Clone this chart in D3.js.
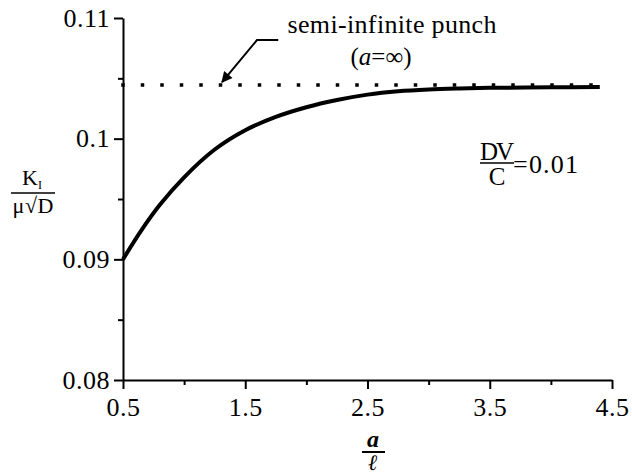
<!DOCTYPE html>
<html lang="en">
<head>
  <meta charset="UTF-8">
  <script src="https://d3js.org/d3.v7.min.js"></script>
  <title>K1 vs a/l</title>
  <style>
    body {
      margin: 0;
      background: #fff;
    }
  </style>
</head>
<body>
<script>
  // curve values
  const ratioA = [0.5, 0.65, 0.8, 1.0, 1.25, 1.5, 1.75, 2.0, 2.25, 2.5, 2.75, 3.0, 3.25, 3.5, 4.0, 4.4];
  const kValue = [0.0900, 0.0924, 0.0945, 0.0968, 0.0991, 0.1007, 0.1018, 0.1026, 0.1032, 0.10365, 0.10393, 0.10408, 0.10416, 0.10421, 0.10426, 0.10428];

  // semi-infinite punch limit
  const limitX = [0.5, 4.4];
  const limitK = 0.10445;

  const xTicks = [0.5, 1.5, 2.5, 3.5, 4.5];
  const xMinor = [1.0, 2.0, 3.0, 4.0];
  const yTicks = [0.08, 0.09, 0.1, 0.11];
  const yTickLabels = ["0.08", "0.09", "0.1", "0.11"];
  const yMinor = [0.085, 0.095, 0.105];

  const width = 632, height = 474;
  const serif = "Liberation Serif";

  const svg = d3.select("body").append("svg")
    .attr("width", width)
    .attr("height", height);

  const x = d3.scaleLinear().domain([0.5, 4.5]).range([123, 612]);
  const y = d3.scaleLinear().domain([0.08, 0.11]).range([380, 18]);

  // arrowhead for the annotation
  svg.append("defs").append("marker")
    .attr("id", "arrow")
    .attr("viewBox", "0 -5 10 10")
    .attr("refX", 9)
    .attr("refY", 0)
    .attr("orient", "auto")
    .attr("markerUnits", "userSpaceOnUse")
    .attr("markerWidth", 13)
    .attr("markerHeight", 11)
    .append("path")
    .attr("d", "M0,-5L10,0L0,5Z")
    .attr("fill", "#000");

  // axes
  const xAxis = svg.append("g")
    .attr("transform", `translate(0,${y(0.08)})`)
    .call(d3.axisBottom(x).tickValues(xTicks).tickSize(9).tickSizeOuter(0).tickPadding(9)
      .tickFormat(d3.format(".1f")));
  const xAxisMinor = svg.append("g")
    .attr("transform", `translate(0,${y(0.08)})`)
    .call(d3.axisBottom(x).tickValues(xMinor).tickSize(5).tickSizeOuter(0).tickFormat(""));

  const yAxis = svg.append("g")
    .attr("transform", `translate(${x(0.5)},0)`)
    .call(d3.axisLeft(y).tickValues(yTicks).tickSize(9).tickSizeOuter(0).tickPadding(4)
      .tickFormat((d, i) => yTickLabels[i]));
  const yAxisMinor = svg.append("g")
    .attr("transform", `translate(${x(0.5)},0)`)
    .call(d3.axisLeft(y).tickValues(yMinor).tickSize(5).tickSizeOuter(0).tickFormat(""));

  svg.selectAll("g").attr("font-family", serif);
  svg.selectAll(".domain").attr("stroke", "#000").attr("stroke-width", 2);
  svg.selectAll(".tick line").attr("stroke", "#000").attr("stroke-width", 2);
  svg.selectAll(".tick text").attr("font-size", 26).attr("font-family", serif)
    .attr("letter-spacing", 0.5);
  yAxisMinor.select(".domain").remove();
  xAxisMinor.select(".domain").remove();

  // dotted limit line
  svg.append("path")
    .datum(limitX)
    .attr("fill", "none")
    .attr("stroke", "#000")
    .attr("stroke-width", 3.5)
    .attr("stroke-linecap", "square")
    .attr("stroke-dasharray", "0,19.5")
    .attr("d", d3.line().x(d => x(d)).y(() => y(limitK)));

  // main curve
  const pts = ratioA.map((d, i) => [d, kValue[i]]);
  svg.append("path")
    .datum(pts)
    .attr("fill", "none")
    .attr("stroke", "#000")
    .attr("stroke-width", 4)
    .attr("d", d3.line().x(d => x(d[0])).y(d => y(d[1])).curve(d3.curveCatmullRom.alpha(0.5)));

  // annotation arrow
  const arrowPts = [[1.77, 0.10817], [1.596, 0.10817], [1.31, 0.10468]];
  svg.append("path")
    .datum(arrowPts)
    .attr("fill", "none")
    .attr("stroke", "#000")
    .attr("stroke-width", 2)
    .attr("marker-end", "url(#arrow)")
    .attr("d", d3.line().x(d => x(d[0])).y(d => y(d[1])));

  const txt = (px, py, size) => svg.append("text")
    .attr("x", px).attr("y", py)
    .attr("font-family", serif)
    .attr("font-size", size)
    .attr("fill", "#000");

  txt(392, 33, 26).attr("text-anchor", "middle").attr("textLength", 209)
    .text("semi-infinite punch");

  const inf = txt(381, 65, 25).attr("text-anchor", "middle");
  inf.append("tspan").text("(");
  inf.append("tspan").attr("font-style", "italic").text("a");
  inf.append("tspan").text("=∞)");

  // DV/C = 0.01
  txt(497, 160, 25).attr("text-anchor", "middle").attr("textLength", 34).text("DV");
  svg.append("line").attr("x1", 480).attr("x2", 514).attr("y1", 163).attr("y2", 163)
    .attr("stroke", "#000").attr("stroke-width", 1.5);
  txt(497, 185, 25).attr("text-anchor", "middle").text("C");
  txt(513, 173, 26).attr("textLength", 65).text("=0.01");

  // y label K_I / mu sqrt(D)
  const kl = txt(22, 185, 22);
  kl.append("tspan").text("K");
  kl.append("tspan").attr("font-size", 12).attr("dy", 4).text("I");
  svg.append("line").attr("x1", 11).attr("x2", 55).attr("y1", 193).attr("y2", 193)
    .attr("stroke", "#000").attr("stroke-width", 1.5);
  txt(33, 213, 22).attr("text-anchor", "middle").attr("textLength", 41).text("μ√D");

  // x label a / l
  txt(373, 447, 24).attr("text-anchor", "middle")
    .attr("font-style", "italic").attr("font-weight", "bold").text("a");
  svg.append("line").attr("x1", 362).attr("x2", 385).attr("y1", 452).attr("y2", 452)
    .attr("stroke", "#000").attr("stroke-width", 2);
  txt(373, 470, 22).attr("text-anchor", "middle")
    .attr("font-style", "italic").attr("font-weight", "bold").text("ℓ");
</script>
</body>
</html>
